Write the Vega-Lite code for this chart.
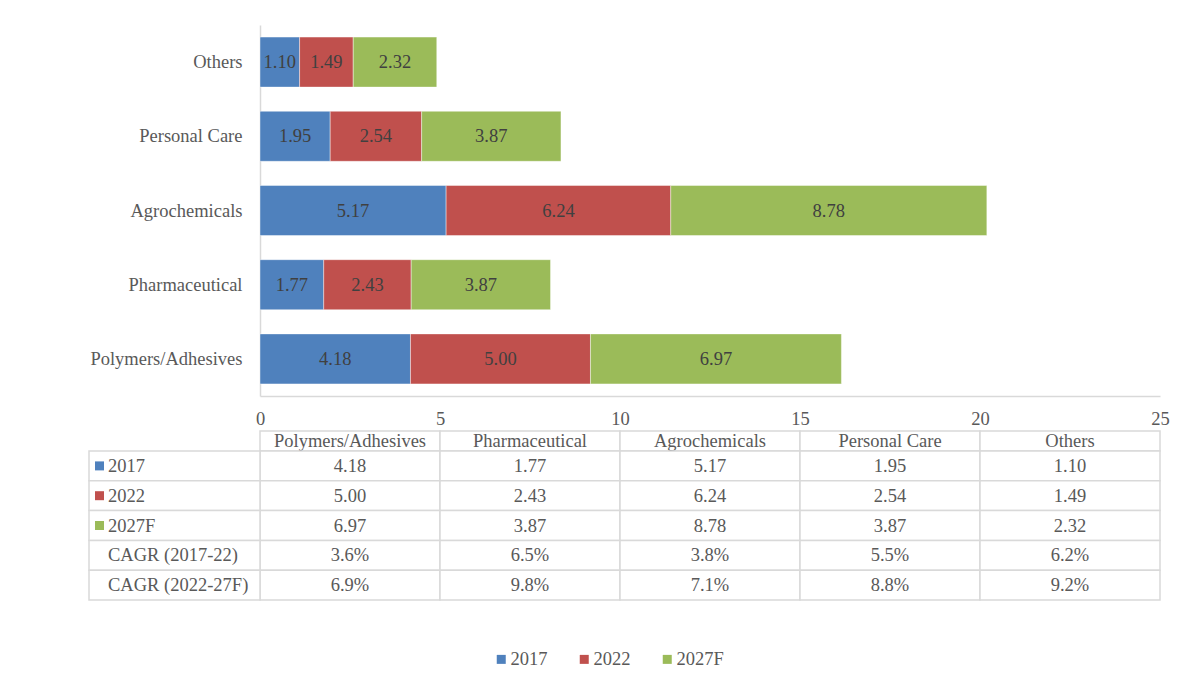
{
  "$schema": "https://vega.github.io/schema/vega-lite/v6.json",
  "background": "white",
  "padding": {"left": 88, "top": 25, "right": 10, "bottom": 5},
  "config": {
    "view": {"stroke": null},
    "font": "Liberation Serif"
  },
  "datasets": {
    "bars": [
      {"cat": "Polymers/Adhesives", "year": "2017", "value": 4.18},
      {"cat": "Polymers/Adhesives", "year": "2022", "value": 5.00},
      {"cat": "Polymers/Adhesives", "year": "2027F", "value": 6.97},
      {"cat": "Pharmaceutical", "year": "2017", "value": 1.77},
      {"cat": "Pharmaceutical", "year": "2022", "value": 2.43},
      {"cat": "Pharmaceutical", "year": "2027F", "value": 3.87},
      {"cat": "Agrochemicals", "year": "2017", "value": 5.17},
      {"cat": "Agrochemicals", "year": "2022", "value": 6.24},
      {"cat": "Agrochemicals", "year": "2027F", "value": 8.78},
      {"cat": "Personal Care", "year": "2017", "value": 1.95},
      {"cat": "Personal Care", "year": "2022", "value": 2.54},
      {"cat": "Personal Care", "year": "2027F", "value": 3.87},
      {"cat": "Others", "year": "2017", "value": 1.10},
      {"cat": "Others", "year": "2022", "value": 1.49},
      {"cat": "Others", "year": "2027F", "value": 2.32}
    ],
    "header": [
      {"cat": "Polymers/Adhesives", "row": "header"},
      {"cat": "Pharmaceutical", "row": "header"},
      {"cat": "Agrochemicals", "row": "header"},
      {"cat": "Personal Care", "row": "header"},
      {"cat": "Others", "row": "header"}
    ],
    "table": [
      {"row": "2017", "cat": "Polymers/Adhesives", "text": "4.18"},
      {"row": "2017", "cat": "Pharmaceutical", "text": "1.77"},
      {"row": "2017", "cat": "Agrochemicals", "text": "5.17"},
      {"row": "2017", "cat": "Personal Care", "text": "1.95"},
      {"row": "2017", "cat": "Others", "text": "1.10"},
      {"row": "2022", "cat": "Polymers/Adhesives", "text": "5.00"},
      {"row": "2022", "cat": "Pharmaceutical", "text": "2.43"},
      {"row": "2022", "cat": "Agrochemicals", "text": "6.24"},
      {"row": "2022", "cat": "Personal Care", "text": "2.54"},
      {"row": "2022", "cat": "Others", "text": "1.49"},
      {"row": "2027F", "cat": "Polymers/Adhesives", "text": "6.97"},
      {"row": "2027F", "cat": "Pharmaceutical", "text": "3.87"},
      {"row": "2027F", "cat": "Agrochemicals", "text": "8.78"},
      {"row": "2027F", "cat": "Personal Care", "text": "3.87"},
      {"row": "2027F", "cat": "Others", "text": "2.32"},
      {"row": "CAGR (2017-22)", "cat": "Polymers/Adhesives", "text": "3.6%"},
      {"row": "CAGR (2017-22)", "cat": "Pharmaceutical", "text": "6.5%"},
      {"row": "CAGR (2017-22)", "cat": "Agrochemicals", "text": "3.8%"},
      {"row": "CAGR (2017-22)", "cat": "Personal Care", "text": "5.5%"},
      {"row": "CAGR (2017-22)", "cat": "Others", "text": "6.2%"},
      {"row": "CAGR (2022-27F)", "cat": "Polymers/Adhesives", "text": "6.9%"},
      {"row": "CAGR (2022-27F)", "cat": "Pharmaceutical", "text": "9.8%"},
      {"row": "CAGR (2022-27F)", "cat": "Agrochemicals", "text": "7.1%"},
      {"row": "CAGR (2022-27F)", "cat": "Personal Care", "text": "8.8%"},
      {"row": "CAGR (2022-27F)", "cat": "Others", "text": "9.2%"}
    ],
    "rowlabels": [
      {"row": "2017", "year": "2017"},
      {"row": "2022", "year": "2022"},
      {"row": "2027F", "year": "2027F"},
      {"row": "CAGR (2017-22)", "year": null},
      {"row": "CAGR (2022-27F)", "year": null}
    ]
  },
  "spacing": 2,
  "vconcat": [
    {
      "width": 900,
      "height": 371,
      "data": {"name": "bars"},
      "encoding": {
        "y": {
          "field": "cat", "type": "nominal",
          "sort": ["Others", "Personal Care", "Agrochemicals", "Pharmaceutical", "Polymers/Adhesives"],
          "scale": {"paddingInner": 0.326, "paddingOuter": 0.163},
          "axis": {"title": null, "ticks": false, "tickSize": 0, "labelPadding": 18, "labelFontSize": 18.5, "labelColor": "#595959", "labelFont": "Liberation Serif", "domainColor": "#d9d9d9", "domainWidth": 1.5, "labelLimit": 400}
        }
      },
      "layer": [
        {
          "mark": {"type": "bar", "stroke": "white", "strokeWidth": 0.6, "strokeOpacity": 0.7},
          "encoding": {
            "x": {
              "field": "value", "type": "quantitative", "stack": "zero",
              "scale": {"domain": [0, 25], "nice": false},
              "axis": {"title": null, "values": [0, 5, 10, 15, 20, 25], "grid": false, "ticks": false, "tickSize": 0, "labelPadding": 13, "labelFontSize": 18.5, "labelColor": "#595959", "labelFont": "Liberation Serif", "domainColor": "#d9d9d9", "domainWidth": 1.5, "labelFlush": false}
            },
            "color": {
              "field": "year", "type": "nominal",
              "scale": {"domain": ["2017", "2022", "2027F"], "range": ["#4F81BD", "#C0504D", "#9BBB59"]},
              "legend": {"orient": "none", "legendX": 232, "legendY": 625, "direction": "horizontal", "title": null, "symbolType": "square", "symbolSize": 81, "symbolStrokeWidth": 0, "symbolOpacity": 1, "labelFontSize": 18.5, "labelFont": "Liberation Serif", "labelColor": "#595959", "labelOffset": 0, "columnPadding": 27}
            }
          }
        },
        {
          "mark": {"type": "text", "font": "Liberation Serif", "fontSize": 18.5, "color": "#404040", "baseline": "middle"},
          "encoding": {
            "x": {"field": "value", "type": "quantitative", "stack": "zero", "bandPosition": 0.5},
            "detail": {"field": "year"},
            "text": {"field": "value", "type": "quantitative", "format": ".2f"}
          }
        }
      ]
    },
    {
      "width": 900,
      "height": 169,
      "layer": [
        {
          "data": {"name": "header"},
          "encoding": {
            "x": {"field": "cat", "type": "nominal", "scale": {"domain": ["Polymers/Adhesives", "Pharmaceutical", "Agrochemicals", "Personal Care", "Others"], "paddingInner": 0, "paddingOuter": 0}, "axis": null},
            "y": {"field": "row", "type": "nominal", "scale": {"domain": ["header"], "range": [0, 20], "paddingInner": 0, "paddingOuter": 0}, "axis": null}
          },
          "layer": [
            {"mark": {"type": "rect", "fill": "white", "stroke": "#d9d9d9", "strokeWidth": 1.5}},
            {"mark": {"type": "text", "font": "Liberation Serif", "fontSize": 18.5, "color": "#595959", "baseline": "middle"}, "encoding": {"text": {"field": "cat"}}}
          ]
        },
        {
          "data": {"name": "table"},
          "encoding": {
            "x": {"field": "cat", "type": "nominal", "scale": {"domain": ["Polymers/Adhesives", "Pharmaceutical", "Agrochemicals", "Personal Care", "Others"], "paddingInner": 0, "paddingOuter": 0}, "axis": null},
            "y": {"field": "row", "type": "nominal", "scale": {"domain": ["2017", "2022", "2027F", "CAGR (2017-22)", "CAGR (2022-27F)"], "range": [20, 169], "paddingInner": 0, "paddingOuter": 0}, "axis": null}
          },
          "layer": [
            {"mark": {"type": "rect", "fill": "white", "stroke": "#d9d9d9", "strokeWidth": 1.5}},
            {"mark": {"type": "text", "font": "Liberation Serif", "fontSize": 18.5, "color": "#595959", "baseline": "middle"}, "encoding": {"text": {"field": "text"}}}
          ]
        },
        {
          "data": {"name": "rowlabels"},
          "encoding": {
            "x": {"datum": "label", "type": "nominal", "scale": {"domain": ["label"], "range": [-171, 0], "paddingInner": 0, "paddingOuter": 0}, "axis": null},
            "y": {"field": "row", "type": "nominal", "scale": {"domain": ["2017", "2022", "2027F", "CAGR (2017-22)", "CAGR (2022-27F)"], "range": [20, 169], "paddingInner": 0, "paddingOuter": 0}, "axis": null}
          },
          "layer": [
            {"mark": {"type": "rect", "fill": "white", "stroke": "#d9d9d9", "strokeWidth": 1.5}},
            {
              "mark": {"type": "text", "font": "Liberation Serif", "fontSize": 18.5, "color": "#595959", "baseline": "middle", "align": "left", "dx": 19},
              "encoding": {
                "x": {"datum": "label", "type": "nominal", "bandPosition": 0, "scale": {"domain": ["label"], "range": [-171, 0], "paddingInner": 0, "paddingOuter": 0}, "axis": null},
                "text": {"field": "row"}
              }
            },
            {
              "transform": [{"filter": "isValid(datum.year)"}],
              "mark": {"type": "point", "shape": "square", "filled": true, "size": 81, "opacity": 1, "xOffset": 10.5},
              "encoding": {
                "x": {"datum": "label", "type": "nominal", "bandPosition": 0, "scale": {"domain": ["label"], "range": [-171, 0], "paddingInner": 0, "paddingOuter": 0}, "axis": null},
                "color": {"field": "year", "type": "nominal", "scale": {"domain": ["2017", "2022", "2027F"], "range": ["#4F81BD", "#C0504D", "#9BBB59"]}}
              }
            }
          ]
        }
      ],
      "resolve": {"scale": {"x": "independent", "y": "independent"}}
    }
  ]
}
